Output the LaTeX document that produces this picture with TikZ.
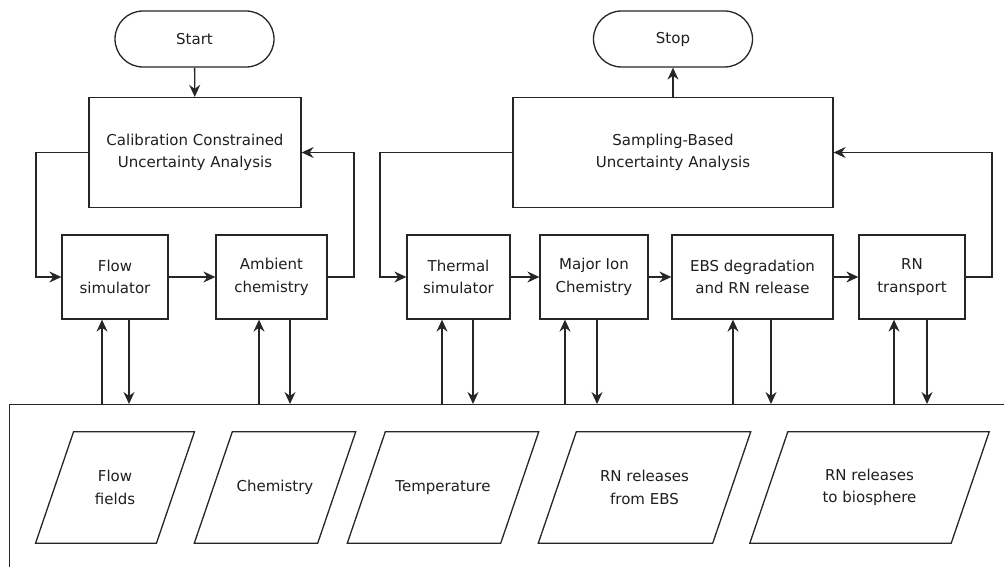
\documentclass[tikz,border=0pt]{standalone}
\usepackage{fontspec}
\setmainfont{DejaVu Sans}
\usetikzlibrary{arrows.meta}
\begin{document}
\begin{tikzpicture}[x=1pt,y=-1pt,
  every node/.style={font=\fontsize{15}{22.5}\selectfont, text=black!88, align=center, inner sep=0pt},
  line/.style={line width=1.3pt, draw=black!85},
  arr/.style={line, -{Stealth[length=12pt,width=11pt,inset=4pt]}},
  terminal/.style={line, draw, rounded corners=28pt, minimum width=159pt, minimum height=56pt},
  proc/.style={line, draw, minimum height=84pt},
  bigproc/.style={line, draw, minimum height=110pt},
  data/.style={minimum height=111pt}]
\clip (0,0) rectangle (1004,567);
\fill[white] (0,0) rectangle (1004,567);

% terminals
\node[terminal] (start) at (194.5,39) {Start};
\node[terminal] (stop) at (673,39) {Stop};

% uncertainty analysis drivers
\node[bigproc, minimum width=212pt] (calib) at (195,152.5) {Calibration Constrained\\Uncertainty Analysis};
\node[bigproc, minimum width=320pt] (samp) at (673,152.5) {Sampling-Based\\Uncertainty Analysis};

% process models
\node[proc, minimum width=106pt] (flow) at (115,277) {Flow\\simulator};
\node[proc, minimum width=111pt] (amb) at (271.5,277) {Ambient\\chemistry};
\node[proc, minimum width=103pt] (therm) at (458.5,277) {Thermal\\simulator};
\node[proc, minimum width=108pt] (ion) at (594,277) {Major Ion\\Chemistry};
\node[proc, minimum width=161pt] (ebs) at (752.5,277) {EBS degradation\\and RN release};
\node[proc, minimum width=106pt] (rnt) at (912,277) {RN\\transport};

% shared data store
\node[line, draw, anchor=north west, minimum width=1100pt, minimum height=300pt] (store) at (9,404) {};

% data sets
\node[data, minimum width=120.5pt] (d1) at (115,487.5) {Flow\\fields};
\node[data, minimum width=123pt] (d2) at (275,487.5) {Chemistry};
\node[data, minimum width=153pt] (d3) at (443,487.5) {Temperature};
\node[data, minimum width=174pt] (d4) at (644.5,487.5) {RN releases\\from EBS};
\node[data, minimum width=201pt] (d5) at (869.5,487.5) {RN releases\\to biosphere};
\foreach \n in {d1,d2,d3,d4,d5}
  \draw[line] ([xshift=19pt]\n.north west) -- ([xshift=19pt]\n.north east)
    -- ([xshift=-19pt]\n.south east) -- ([xshift=-19pt]\n.south west) -- cycle;

% main flow
\draw[arr] (start) -- (calib);
\draw[arr] (samp.north) -- (stop.south);
\draw[arr] (flow) -- (amb);
\draw[arr] (therm) -- (ion);
\draw[arr] (ion) -- (ebs);
\draw[arr] (ebs) -- (rnt);

% feedback loops
\coordinate (l1) at (36,0);
\coordinate (r1) at (354,0);
\coordinate (l2) at (380,0);
\coordinate (r2) at (992,0);
\draw[arr] (calib.west) -- (calib.west -| l1) |- (flow.west);
\draw[arr] (amb.east) -- (amb.east -| r1) |- (calib.east);
\draw[arr] (samp.west) -- (samp.west -| l2) |- (therm.west);
\draw[arr] (rnt.east) -- (rnt.east -| r2) |- (samp.east);

% exchanges with the data store
\foreach \n/\u/\d in {flow/-13/14, amb/-12.5/18.5, therm/-16.5/14.5, ion/-29/3, ebs/-19.5/18.5, rnt/-18/15} {
  \draw[arr] ([xshift=\u pt]\n.south |- store.north) -- ([xshift=\u pt]\n.south);
  \draw[arr] ([xshift=\d pt]\n.south) -- ([xshift=\d pt]\n.south |- store.north);
}
\end{tikzpicture}
\end{document}
